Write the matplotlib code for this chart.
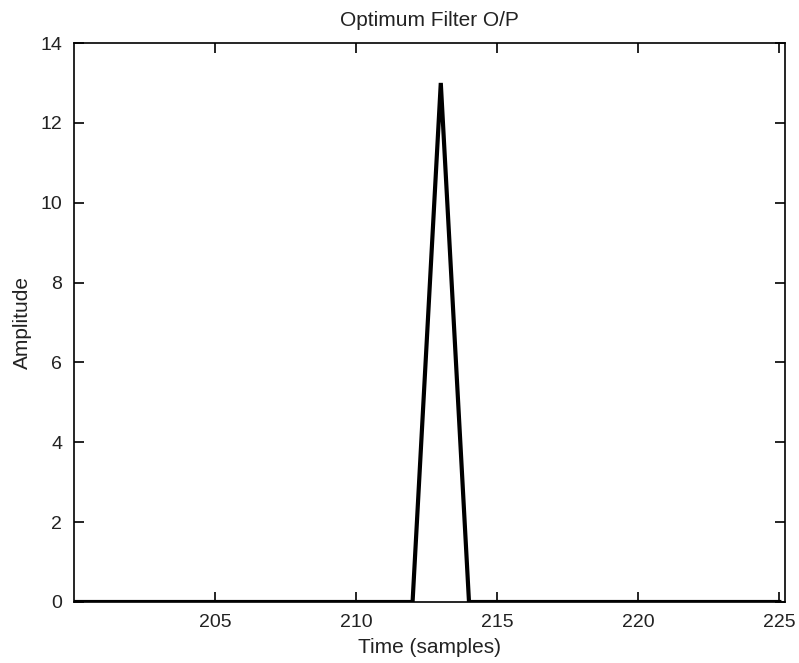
import numpy as np
import matplotlib
matplotlib.use("Agg")
import matplotlib.pyplot as plt

# optimum filter output samples 200..225
samples = list(range(200, 226))
amplitude = [0, 0, 0, 0, 0, 0, 0, 0, 0, 0, 0, 0, 0, 13, 0, 0, 0, 0, 0, 0, 0, 0, 0, 0, 0, 0]
x_ticks = [205, 210, 215, 220, 225]
y_ticks = [0, 2, 4, 6, 8, 10, 12, 14]

plt.rcParams['font.family'] = ['Liberation Sans', 'DejaVu Sans']

fig = plt.figure(figsize=(7.99, 6.63), dpi=100)
ax = fig.add_axes([74 / 799, 1 - 602 / 663, (785 - 74) / 799, (602 - 43) / 663])

ax.plot(samples, amplitude, color='black', lw=3, solid_joinstyle='miter')

ax.set_xlim(200, 225.2)
ax.set_ylim(0, 14)
ax.set_xticks(x_ticks)
ax.set_yticks(y_ticks)
ax.tick_params(direction='in', top=True, right=True, length=7, width=1.2,
               labelsize=14, pad=8.5, labelcolor='#222222')
for s in ax.spines.values():
    s.set_linewidth(1.2)

ax.set_title('Optimum Filter O/P', fontsize=15, pad=12.5, color='#222222')
ax.set_xlabel('Time (samples)', fontsize=15, labelpad=5, color='#222222')
ax.set_ylabel('Amplitude', fontsize=15, labelpad=6, color='#222222')

fig.savefig('out.png', dpi=100)
